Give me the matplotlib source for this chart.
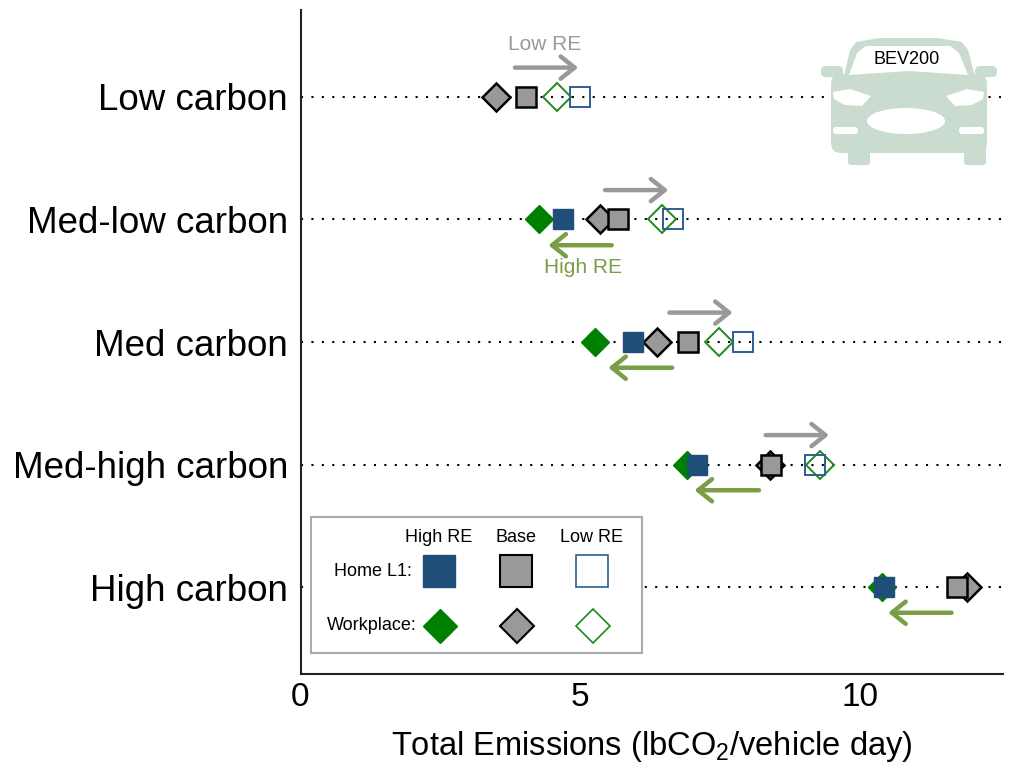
import numpy as np
import matplotlib
matplotlib.use("Agg")
import matplotlib.pyplot as plt
from matplotlib import font_manager
from matplotlib.patches import FancyArrowPatch, Rectangle, Polygon, Ellipse, FancyBboxPatch
from matplotlib.lines import Line2D

# ---------------- data ----------------
categories = ["Low carbon", "Med-low carbon", "Med carbon", "Med-high carbon", "High carbon"]
home_high = [np.nan, 4.69, 5.94, 7.09, 10.42]
home_base = [4.03, 5.68, 6.92, 8.40, 11.73]
home_low = [5.00, 6.65, 7.90, 9.19, np.nan]
work_high = [np.nan, 4.26, 5.27, 6.91, 10.38]
work_base = [3.50, 5.35, 6.37, 8.38, 11.90]
work_low = [4.59, 6.45, 7.47, 9.28, np.nan]

lowre_arrow_start = [3.83, 5.44, 6.59, 8.31, np.nan]
lowre_arrow_end = [4.96, 6.57, 7.72, 9.44, np.nan]
highre_arrow_start = [np.nan, 5.56, 6.64, 8.19, 11.63]
highre_arrow_end = [np.nan, 4.43, 5.50, 7.04, 10.50]

xticks = [0, 5, 10]
xlabel = "Total Emissions (lbCO$_2$/vehicle day)"

# ---------------- style ----------------
W, H = 1018, 763
BLUE = "#1f4e79"
GREEN = "#008000"
GRAY = "#999999"
OLIVE = "#7a9e45"
CAR = "#c9dccf"

names = {f.name for f in font_manager.fontManager.ttflist}
SANS = "Liberation Sans" if "Liberation Sans" in names else "DejaVu Sans"
plt.rcParams["font.family"] = [SANS, "DejaVu Sans"]
plt.rcParams["mathtext.fontset"] = "custom"
plt.rcParams["mathtext.rm"] = SANS
plt.rcParams["mathtext.it"] = SANS

fig = plt.figure(figsize=(W / 100, H / 100), dpi=100)
ax = fig.add_axes([300.5 / W, 1 - 674 / H, (1003 - 300.5) / W, (674 - 10) / H])

n = len(categories)
ypos = np.arange(n)[::-1]  # Low carbon at top

xmax = 12.55
ax.set_xlim(0, xmax)
ax.set_ylim(-0.71, n - 1 + 0.71)

# dotted guide lines
ax.hlines(ypos, 0, xmax, colors="black", linestyles=(0, (1, 4)), linewidth=1.5, zorder=1)

ms_sq = 14.9
ms_di = 14.3
# workplace diamonds first, then home squares
ax.plot(work_high, ypos, "D", ms=ms_di, mfc=GREEN, mec=GREEN, mew=1, ls="none", zorder=3)
ax.plot(work_base, ypos, "D", ms=ms_di, mfc=GRAY, mec="black", mew=1.8, ls="none", zorder=3)
ax.plot(work_low, ypos, "D", ms=ms_di, mfc="none", mec="#1e8a1e", mew=1.4, ls="none", zorder=3)
ax.plot(home_high, ypos, "s", ms=ms_sq, mfc=BLUE, mec=BLUE, mew=1, ls="none", zorder=4)
ax.plot(home_base, ypos, "s", ms=ms_sq, mfc=GRAY, mec="black", mew=1.8, ls="none", zorder=4)
ax.plot(home_low, ypos, "s", ms=ms_sq, mfc="none", mec="#2d5f8f", mew=1.4, ls="none", zorder=4)

# arrows
for i in range(n):
    y = ypos[i]
    if not np.isnan(lowre_arrow_start[i]):
        ax.add_patch(FancyArrowPatch((lowre_arrow_start[i], y + 0.24), (lowre_arrow_end[i], y + 0.24),
                                     arrowstyle="->,head_length=0.5,head_width=0.4", mutation_scale=20,
                                     lw=3.2, color=GRAY, shrinkA=0, shrinkB=0, zorder=5))
    if not np.isnan(highre_arrow_start[i]):
        ax.add_patch(FancyArrowPatch((highre_arrow_start[i], y - 0.21), (highre_arrow_end[i], y - 0.21),
                                     arrowstyle="->,head_length=0.5,head_width=0.4", mutation_scale=20,
                                     lw=3.2, color=OLIVE, shrinkA=0, shrinkB=0, zorder=5))

ax.text(4.37, ypos[0] + 0.43, "Low RE", color=GRAY, fontsize=15, ha="center", va="center")
ax.text(5.04, ypos[1] - 0.39, "High RE", color=OLIVE, fontsize=15, ha="center", va="center")

# axes styling
for s in ["top", "right"]:
    ax.spines[s].set_visible(False)
for s in ["left", "bottom"]:
    ax.spines[s].set_linewidth(1.5)
    ax.spines[s].set_color("#222222")
ax.set_yticks(ypos)
ax.set_yticklabels(categories, fontsize=26.5)
ax.set_xticks(xticks)
ax.set_xticklabels([str(t) for t in xticks], fontsize=24)
ax.tick_params(axis="both", length=0)
ax.tick_params(axis="y", pad=9)
ax.tick_params(axis="x", pad=6)
ax.set_xlabel(xlabel, fontsize=23.5, labelpad=11)

# ---------------- legend (manual) ----------------
def fx(px):
    return px / W

def fy(py):
    return 1 - py / H

fig.patches.append(Rectangle((fx(311), fy(653)), fx(642) - fx(311), fy(517) - fy(653),
                             transform=fig.transFigure, facecolor="white", edgecolor="#aaaaaa",
                             lw=1.5, zorder=10))
col_x = [439, 516, 592]
for cx, lab in zip(col_x, ["High RE", "Base", "Low RE"]):
    fig.text(fx(cx), fy(538), lab, fontsize=13, ha="center", va="center", zorder=11)
fig.text(fx(412), fy(571), "Home L1:", fontsize=13, ha="right", va="center", zorder=11)
fig.text(fx(417), fy(626), "Workplace:", fontsize=13, ha="right", va="center", zorder=11)
leg_sq = [dict(mfc=BLUE, mec=BLUE, mew=1), dict(mfc=GRAY, mec="black", mew=1.5),
          dict(mfc="white", mec="#2d5f8f", mew=1.2)]
leg_di = [dict(mfc=GREEN, mec=GREEN, mew=1), dict(mfc=GRAY, mec="black", mew=1.5),
          dict(mfc="white", mec="#1e8a1e", mew=1.2)]
for cx, st in zip(col_x, leg_sq):
    fig.lines.append(Line2D([fx(cx)], [fy(571)], marker="s", ms=23.5, ls="none",
                            transform=fig.transFigure, zorder=12, **st))
for cx, st in zip(col_x, leg_di):
    fig.lines.append(Line2D([fx(cx + 1)], [fy(626)], marker="D", ms=17.8, ls="none",
                            transform=fig.transFigure, zorder=12, **st))

# ---------------- car icon ----------------
cax = fig.add_axes([fx(815), fy(170), fx(998) - fx(815), fy(33) - fy(170)])
cax.set_xlim(815, 998)
cax.set_ylim(170, 33)
cax.axis("off")
cax.patch.set_alpha(0)
# cabin
cab = Polygon([(843, 80), (850, 50), (856, 42), (880, 38), (938, 38), (962, 42), (968, 50), (976, 80)],
              closed=True, fc=CAR, ec="none")
cax.add_patch(cab)
# body
cax.add_patch(FancyBboxPatch((831, 74), 156, 79, boxstyle="round,pad=0,rounding_size=10", fc=CAR, ec="none"))
# mirrors
cax.add_patch(FancyBboxPatch((821, 66), 22, 11, boxstyle="round,pad=0,rounding_size=5", fc=CAR, ec="none"))
cax.add_patch(FancyBboxPatch((975, 66), 22, 11, boxstyle="round,pad=0,rounding_size=5", fc=CAR, ec="none"))
# wheels
cax.add_patch(FancyBboxPatch((848, 140), 22, 25, boxstyle="round,pad=0,rounding_size=3", fc=CAR, ec="none"))
cax.add_patch(FancyBboxPatch((964, 140), 22, 25, boxstyle="round,pad=0,rounding_size=3", fc=CAR, ec="none"))
# windshield
cax.add_patch(Polygon([(849, 75), (857, 53), (866, 46), (950, 46), (959, 53), (968, 75), (909, 71)],
                      closed=True, fc="white", ec="none"))
# headlights
cax.add_patch(Polygon([(833, 92), (850, 89), (871, 96), (862, 106), (845, 105), (834, 99)],
                      closed=True, fc="white", ec="none"))
cax.add_patch(Polygon([(984, 92), (967, 89), (946, 96), (955, 106), (972, 105), (983, 99)],
                      closed=True, fc="white", ec="none"))
# grille
cax.add_patch(Ellipse((906, 121), 78, 26, fc="white", ec="none"))
# fog lights
cax.add_patch(FancyBboxPatch((833, 127), 25, 7, boxstyle="round,pad=0,rounding_size=3", fc="white", ec="none"))
cax.add_patch(FancyBboxPatch((959, 127), 25, 7, boxstyle="round,pad=0,rounding_size=3", fc="white", ec="none"))
cax.text(907, 60, "BEV200", fontsize=13, ha="center", va="center", color="black")

fig.savefig("out.png", dpi=100)
